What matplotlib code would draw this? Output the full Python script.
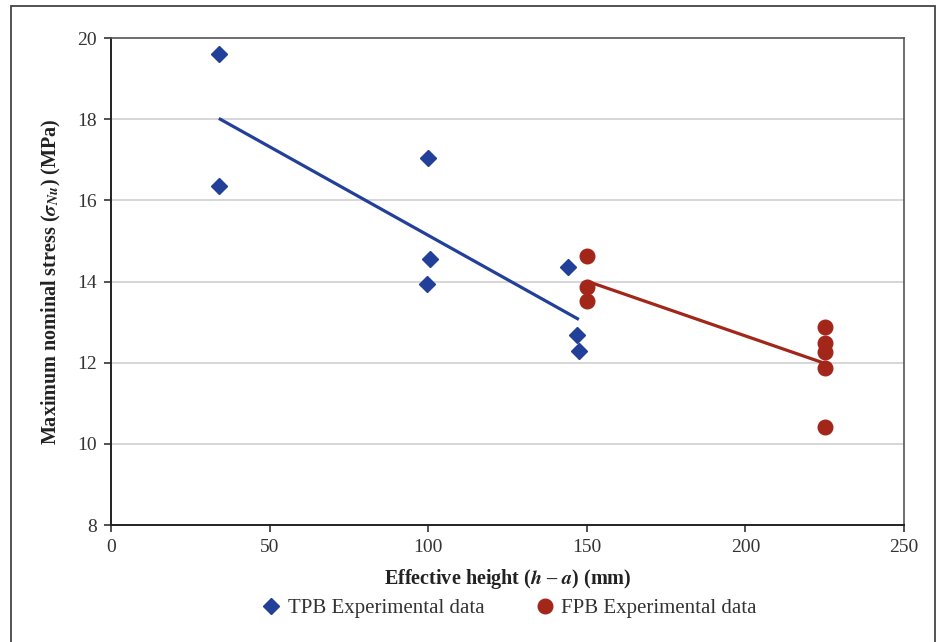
import numpy as np
import matplotlib
matplotlib.use("Agg")
import matplotlib.pyplot as plt
from matplotlib.patches import Rectangle
from matplotlib.lines import Line2D

plt.rcParams["font.family"] = ["Liberation Serif", "DejaVu Serif"]
plt.rcParams["mathtext.fontset"] = "stix"

# three-point bending (TPB) specimens
tpb_h = [34, 34, 100, 100.5, 99.5, 144, 147, 147.5]
tpb_s = [19.6, 16.35, 17.05, 14.55, 13.95, 14.35, 12.67, 12.3]

# four-point bending (FPB) specimens
fpb_h = [150, 150, 150, 225, 225, 225, 225, 225]
fpb_s = [14.63, 13.87, 13.53, 12.89, 12.48, 12.27, 11.86, 10.42]

x_ticks = [0, 50, 100, 150, 200, 250]
y_ticks = [8, 10, 12, 14, 16, 18, 20]

BLUE = "#22409A"
RED = "#A3261A"


def trend(x, y):
    # least-squares line over the span of the data
    k, b = np.polyfit(x, y, 1)
    xs = np.array([min(x), max(x)])
    return xs, k * xs + b


fig = plt.figure(figsize=(9.4, 6.42), dpi=100)
ax = fig.add_axes([0.1181, 0.1822, 0.8436, 0.7586])

# outer frame around the whole figure
fig.patches.append(Rectangle((11 / 940, -0.05), 924 / 940, 1.05 - 6 / 642,
                             transform=fig.transFigure, fill=False,
                             edgecolor="#444444", linewidth=1.3))

for yv in y_ticks[1:-1]:
    ax.axhline(yv, color="#D0D0D0", lw=1.2, zorder=1)

tx, ty = trend(tpb_h, tpb_s)
fx, fy = trend(fpb_h, fpb_s)
ax.plot(tx, ty, color=BLUE, lw=2.3, zorder=2, solid_capstyle="butt")
ax.plot(fx, fy, color=RED, lw=2.3, zorder=2, solid_capstyle="butt")

ax.plot(tpb_h, tpb_s, ls="none", marker="D", ms=7.8, color=BLUE,
        mec=BLUE, zorder=3)
ax.plot(fpb_h, fpb_s, ls="none", marker="o", ms=10.5, color=RED,
        mec=RED, zorder=3)

ax.set_xlim(0, 250)
ax.set_ylim(8, 20)
ax.set_xticks(x_ticks)
ax.set_yticks(y_ticks)
ax.tick_params(axis="both", direction="out", length=5, width=1.2,
               color="#333333", labelsize=14, labelcolor="#333333", pad=5)

for side in ["left", "bottom"]:
    ax.spines[side].set_color("#222222")
    ax.spines[side].set_linewidth(1.4)
for side in ["top", "right"]:
    ax.spines[side].set_color("#555555")
    ax.spines[side].set_linewidth(1.2)

ax.set_xlabel(r"Effective height ($\boldsymbol{h}$ – $\boldsymbol{a}$) (mm)",
              fontsize=14.5, fontweight="bold", color="#222222", labelpad=8)
ax.set_ylabel(r"Maximum nominal stress ($\boldsymbol{\sigma}_{\boldsymbol{Nu}}$) (MPa)",
              fontsize=14.5, fontweight="bold", color="#222222", labelpad=10)

handles = [
    Line2D([], [], ls="none", marker="D", ms=7.8, color=BLUE),
    Line2D([], [], ls="none", marker="o", ms=10.5, color=RED),
]
fig.legend(handles, ["TPB Experimental data", "FPB Experimental data"],
           loc="center", bbox_to_anchor=(0.54, 1 - 608 / 642), ncol=2,
           frameon=False, fontsize=15, handletextpad=0.2, columnspacing=2.3,
           handlelength=1.2, labelcolor="#333333")

fig.savefig("out.png", dpi=100)
